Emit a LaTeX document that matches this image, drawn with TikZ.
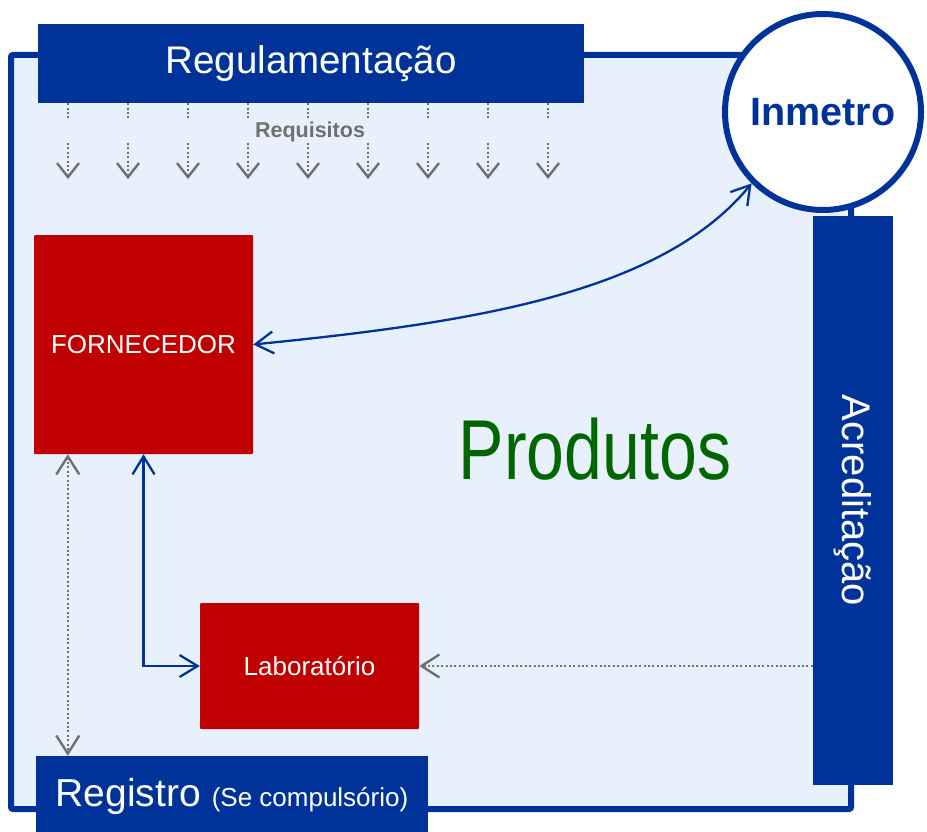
\documentclass[tikz,border=0pt]{standalone}
\usepackage{fontspec}
\setmainfont{Liberation Sans}
\usetikzlibrary{arrows.meta}
\definecolor{regblue}{HTML}{003399}
\definecolor{fornred}{HTML}{C00000}
\definecolor{framebg}{HTML}{E8F0FC}
\definecolor{prodgreen}{HTML}{006600}
\definecolor{tipgray}{HTML}{707070}
\begin{document}
\begin{tikzpicture}[x=1pt,y=1pt,
    bluebar/.style={fill=regblue,text=white,inner sep=0pt},
    redbox/.style={fill=fornred,text=white,inner sep=0pt,rounded corners=1pt},
    blueflow/.style={regblue,line width=2.3pt,{Straight Barb[length=18pt,width=22pt]}-{Straight Barb[length=18pt,width=22pt]}},
    grayflow/.style={tipgray,line width=2.4pt,dash pattern=on 2pt off 2.4pt}]
  \useasboundingbox (0,0) rectangle (927,-832);

  % moldura de fundo
  \draw[regblue,line width=6pt,fill=framebg,rounded corners=2pt] (11,-55) rectangle (851,-809);

  \node[bluebar,minimum width=546pt,minimum height=79pt] (regul) at (311,-63.5)
    {\fontsize{38.5}{42}\selectfont Regulamentação};
  \node[bluebar,rotate=-90,minimum width=569pt,minimum height=80pt] (acred) at (853,-500.5)
    {\fontsize{40}{44}\selectfont Acreditação};
  \node[bluebar,minimum width=392pt,minimum height=80pt] (registro) at (232,-796)
    {\fontsize{39}{42}\selectfont Registro \fontsize{26}{30}\selectfont(Se compulsório)};
  \node[circle,draw=regblue,line width=6pt,fill=white,minimum size=196pt,inner sep=0pt,
    text=regblue,font=\bfseries] (inmetro) at (823,-112) {\fontsize{39.5}{42}\selectfont Inmetro};

  \node[redbox,minimum width=219pt,minimum height=219pt] (fornecedor) at (143.5,-344.5)
    {\fontsize{26}{29}\selectfont FORNECEDOR};
  \node[redbox,minimum width=219pt,minimum height=126pt] (lab) at (309.5,-666)
    {\fontsize{26}{29}\selectfont Laboratório};

  \node[anchor=base,text=prodgreen,xscale=0.8] (produtos) at (595,-479)
    {\fontsize{85}{90}\selectfont Produtos};
  \node[anchor=base,text=tipgray,font=\bfseries] (requisitos) at (310,-138)
    {\fontsize{21.5}{24}\selectfont Requisitos};

  % requisitos
  \foreach \x in {68,128,...,548} {
    \draw[grayflow] (regul.south -| \x,0) -- ++(0,-15);
    \draw[grayflow,-{Straight Barb[length=14pt,width=22pt]}] (\x,-143) -- (\x,-179);
  }

  \draw[blueflow] (fornecedor.east) .. controls +(220,22) and +(-90,-110) .. (inmetro.225);
  \draw[blueflow] (fornecedor.south) |- (lab.west);
  \draw[grayflow,{Straight Barb[length=18pt,width=23pt]}-{Straight Barb[length=18pt,width=23pt]}]
    ([xshift=34pt]fornecedor.south west) -- ([xshift=32pt]registro.north west);
  \draw[grayflow,-{Straight Barb[length=18pt,width=23pt]}] (acred.south |- lab.east) -- (lab.east);
\end{tikzpicture}
\end{document}
